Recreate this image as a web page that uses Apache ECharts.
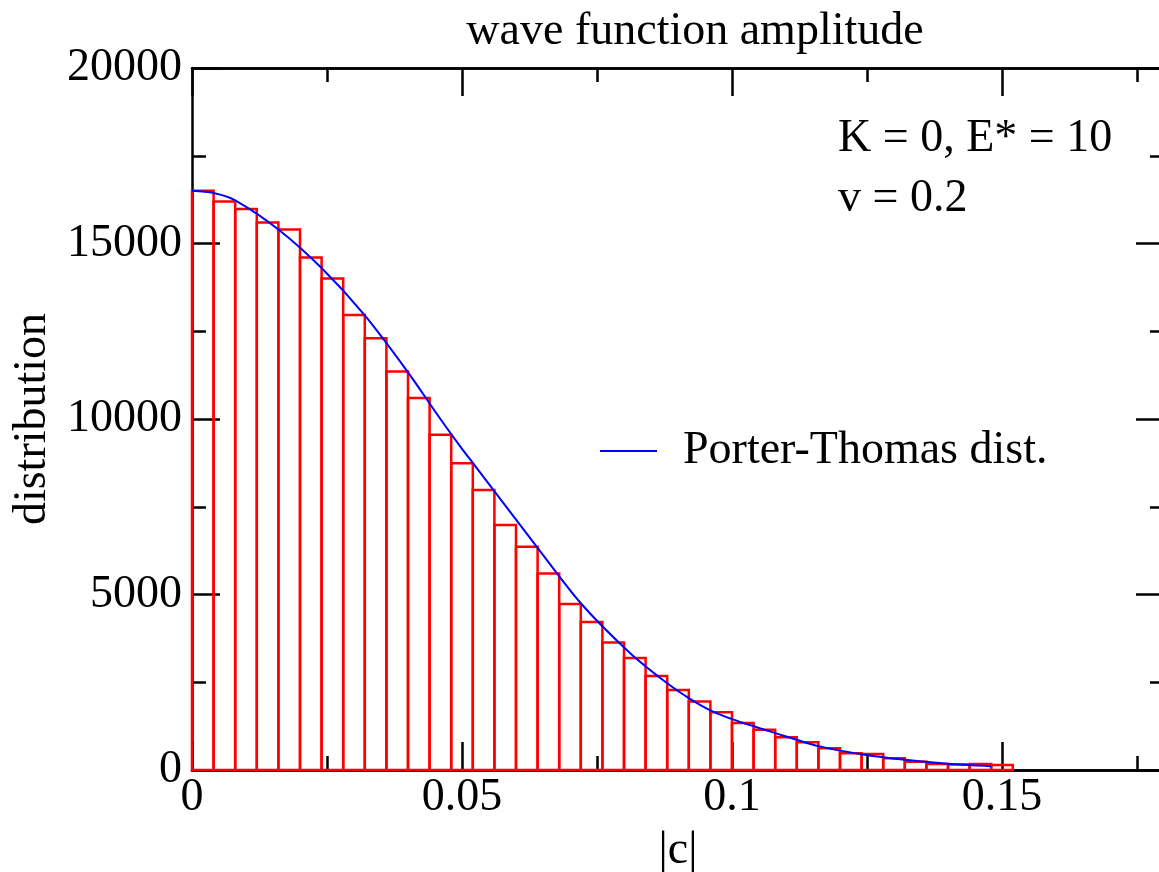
<!DOCTYPE html>
<html>
<head>
<meta charset="utf-8">
<script src="https://cdn.jsdelivr.net/npm/echarts@6/dist/echarts.min.js"></script>
<style>
html,body{margin:0;padding:0;background:#fff;}
#chart{width:1159px;height:872px;}
</style>
</head>
<body>
<div id="chart"></div>
<script>
// ---- data ----
const binWidth = 0.004;
const binCounts = [16500, 16200, 15980, 15600, 15400, 14600, 14000, 12960, 12300, 11350,
  10600, 9550, 8740, 7980, 6980, 6360, 5600, 4730, 4220, 3630,
  3190, 2680, 2280, 1950, 1645, 1340, 1150, 930, 790, 620,
  476, 456, 333, 236, 171, 160, 171, 142];
const curveX = [0, 0.004, 0.008, 0.016, 0.024, 0.032, 0.040, 0.046, 0.050, 0.052,
  0.064, 0.072, 0.081, 0.088, 0.092, 0.096, 0.100, 0.105, 0.107, 0.116,
  0.124, 0.132, 0.140, 0.148];
const curveY = [16500, 16440, 16230, 15400, 14300, 12950, 11330, 10000, 9150, 8750,
  6330, 4750, 3350, 2470, 2050, 1700, 1450, 1200, 1100, 680,
  450, 290, 180, 110];
const xTickLabels = ['0', '0.05', '0.1', '0.15'];
const yTickLabels = ['0', '5000', '10000', '15000', '20000'];
const titleText = 'wave function amplitude';
const xName = '|c|';
const yName = 'distribution';
const seriesName = 'Porter-Thomas dist.';
const noteLines = ['K = 0, E* = 10', 'v = 0.2'];

// ---- build ----
const FONT = '"Liberation Serif", "Times New Roman", serif';
const FS = 46;
const histData = binCounts.map((c, i) => [i * binWidth, (i + 1) * binWidth, c]);
const curveData = curveX.map((x, i) => [x, curveY[i]]);

function xLabel(v) {
  const r = Math.round(v * 1000) / 1000;
  const idx = [0, 0.05, 0.1, 0.15].findIndex(t => Math.abs(t - r) < 1e-9);
  return idx >= 0 ? xTickLabels[idx] : '';
}
function yLabel(v) {
  const idx = [0, 5000, 10000, 15000, 20000].indexOf(Math.round(v));
  return idx >= 0 ? yTickLabels[idx] : '';
}

const lineStyle = {color: '#000', width: 2.5};
function xAx(pos, interval, len, extra) {
  return Object.assign({type: 'value', min: 0, max: 0.18, interval: interval, position: pos,
    splitLine: {show: false},
    axisLine: {show: true, onZero: false, lineStyle: lineStyle},
    axisTick: {show: true, inside: true, length: len, lineStyle: lineStyle},
    axisLabel: {show: false}}, extra || {});
}
function yAx(pos, extra) {
  return Object.assign({type: 'value', min: 0, max: 20000, interval: 5000, position: pos,
    splitLine: {show: false},
    axisLine: {show: true, onZero: false, lineStyle: lineStyle},
    axisTick: {show: true, inside: true, length: 28, lineStyle: lineStyle},
    minorTick: {show: true, splitNumber: 2, length: 14, lineStyle: lineStyle},
    axisLabel: {show: false}}, extra || {});
}

const chart = echarts.init(document.getElementById('chart'), null, {renderer: 'canvas'});
chart.setOption({
  animation: false,
  backgroundColor: '#fff',
  grid: {left: 192, top: 68, width: 972, height: 702, containLabel: false, outerBoundsMode: 'none'},
  title: {text: titleText, left: 690, top: 4, textAlign: 'center',
    textStyle: {fontFamily: FONT, fontSize: FS, fontWeight: 'normal', color: '#000'}},
  legend: {left: 595, top: 423, itemWidth: 57, itemHeight: 20, data: [seriesName],
    icon: 'path://M0,9 L57,9 L57,11 L0,11 Z',
    textStyle: {fontFamily: FONT, fontSize: FS, color: '#000', padding: [0, 0, 0, 21]}},
  xAxis: [
    xAx('bottom', 0.05, 28, {
      axisLabel: {show: true, formatter: xLabel, margin: 5,
        fontFamily: FONT, fontSize: FS, color: '#000'},
      name: xName, nameLocation: 'middle', nameGap: 58,
      nameTextStyle: {fontFamily: FONT, fontSize: FS, color: '#000'}}),
    xAx('bottom', 0.025, 14),
    xAx('top', 0.05, 28),
    xAx('top', 0.025, 14)
  ],
  yAxis: [
    yAx('left', {
      axisLabel: {show: true, formatter: yLabel, margin: 10,
        fontFamily: FONT, fontSize: FS, color: '#000'},
      name: yName, nameLocation: 'middle', nameGap: 128,
      nameTextStyle: {fontFamily: FONT, fontSize: FS, color: '#000'}}),
    yAx('right')
  ],
  graphic: [
    {type: 'text', left: 838, top: 116, style: {text: noteLines[0], fontFamily: FONT, fontSize: FS, fill: '#000'}},
    {type: 'text', left: 838, top: 176, style: {text: noteLines[1], fontFamily: FONT, fontSize: FS, fill: '#000'}}
  ],
  series: [
    {
      name: 'histogram',
      type: 'custom',
      xAxisIndex: 0, yAxisIndex: 0,
      data: histData,
      encode: {x: [0, 1], y: 2},
      clip: false,
      z: 2,
      renderItem: function (params, api) {
        const p0 = api.coord([api.value(0), 0]);
        const p1 = api.coord([api.value(1), api.value(2)]);
        return {type: 'rect',
          shape: {x: p0[0], y: p1[1], width: p1[0] - p0[0], height: p0[1] - p1[1]},
          style: {fill: 'none', stroke: '#ff0000', lineWidth: 2.5}};
      }
    },
    {
      name: seriesName,
      type: 'line',
      xAxisIndex: 0, yAxisIndex: 0,
      data: curveData,
      smooth: 0.3,
      showSymbol: false,
      symbol: 'none',
      lineStyle: {color: '#0000ff', width: 2},
      itemStyle: {color: '#0000ff'},
      z: 3
    }
  ]
});
</script>
</body>
</html>
